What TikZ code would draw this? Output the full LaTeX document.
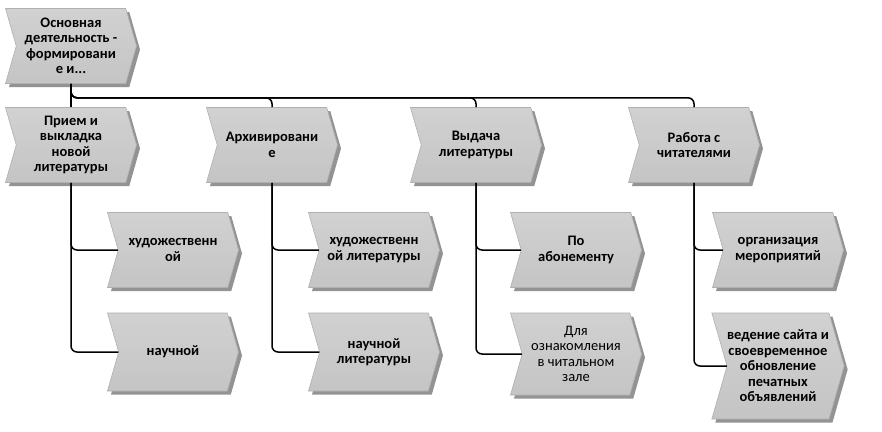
\documentclass[tikz,border=0pt]{standalone}
\usepackage{fontspec}
\setmainfont{Carlito}
\usetikzlibrary{shapes.symbols,shadows}
\tikzset{
  proc/.style={signal, signal to=east, signal from=west,
    signal pointer angle=148,
    minimum width=131pt, minimum height=75pt, inner sep=0pt,
    align=center, font=\bfseries\fontsize{14.5}{15.5}\selectfont,
    top color=gray!36, middle color=gray!18, bottom color=gray!46,
    draw=gray!62, line width=0.6pt,
    drop shadow={shadow xshift=3.5pt, shadow yshift=-3.5pt, fill=gray!85, opacity=1}},
  link/.style={line width=1.5pt, rounded corners=6pt}
}
\begin{document}
\begin{tikzpicture}[x=1pt,y=1pt]
\useasboundingbox (0,0) rectangle (882,-431);
% root process
\node[proc] (root) at (71,-46) {Основная\\деятельность -\\формировани\\е и...};
% first level
\node[proc] (prim) at (71,-145) {Прием и\\выкладка\\новой\\литературы};
\node[proc] (arch) at (272,-145) {Архивировани\\е};
\node[proc] (vyd)  at (476,-145) {Выдача\\литературы};
\node[proc] (rab)  at (694,-145) {Работа с\\читателями};
% second level
\node[proc] (p1) at (173,-250) {художественн\\ой};
\node[proc, minimum height=78pt] (p2) at (173,-352) {научной};
\node[proc] (a1) at (374,-250) {художественн\\ой литературы};
\node[proc, minimum height=78pt] (a2) at (374,-352) {научной\\литературы};
\node[proc] (v1) at (576,-250) {По\\абонементу};
\node[proc, minimum height=82pt, font=\fontsize{14.5}{15.5}\selectfont] (v2) at (576,-354) {Для\\ознакомления\\в читальном\\зале};
\node[proc] (r1) at (778,-250) {организация\\мероприятий};
\node[proc, minimum height=106pt] (r2) at (778,-366) {ведение сайта и\\своевременное\\обновление\\печатных\\объявлений};
% connectors
\draw[link] (root.south) -- (prim.north);
\draw[link] (root.south) -- ++(0,-14) -| (arch.north);
\draw[link] (root.south) -- ++(0,-14) -| (vyd.north);
\draw[link] (root.south) -- ++(0,-14) -| (rab.north);
\draw[link] (prim.south) |- (p1.west);
\draw[link] (prim.south) |- (p2.west);
\draw[link] (arch.south) |- (a1.west);
\draw[link] (arch.south) |- (a2.west);
\draw[link] (vyd.south) |- (v1.west);
\draw[link] (vyd.south) |- (v2.west);
\draw[link] (rab.south) |- (r1.west);
\draw[link] (rab.south) |- (r2.west);
\end{tikzpicture}
\end{document}
